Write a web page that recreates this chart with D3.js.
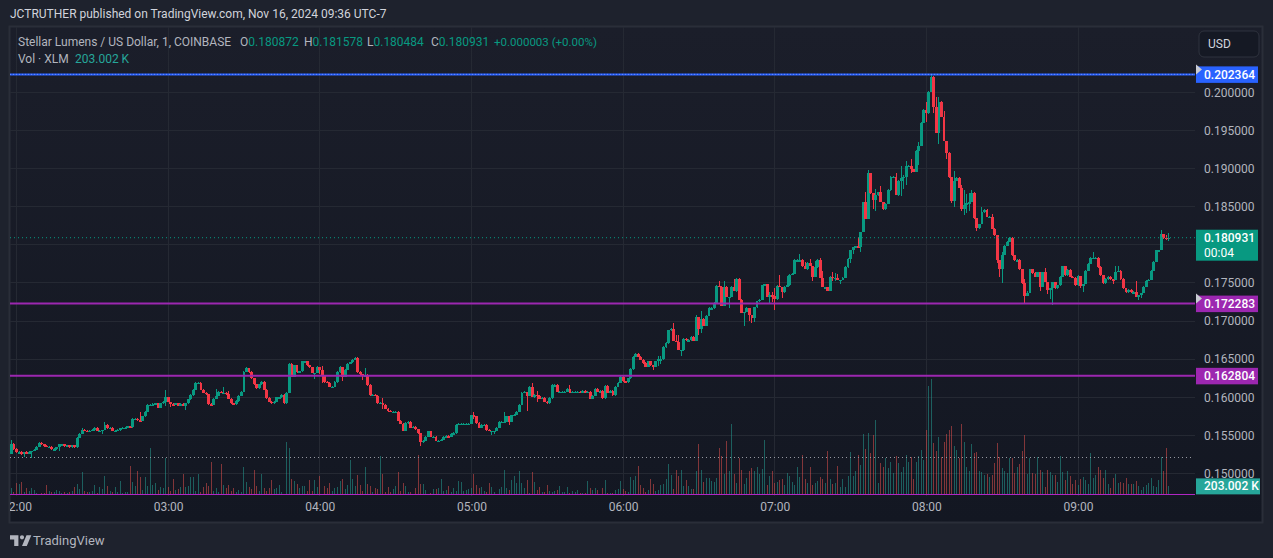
<!DOCTYPE html>
<html>
<head>
<meta charset="utf-8">
<script src="https://cdn.jsdelivr.net/npm/d3@7"></script>
<style>
	html, body { margin: 0; padding: 0; background: #1e222d; overflow: hidden; }
	svg { display: block; font-family: Roboto, "Liberation Sans", sans-serif; }
</style>
</head>
<body>
<svg width="1273" height="558"></svg>
<script>
var priceUnit = 0.0001;
var firstMinute = 118; // 01:58
var firstOpen = 1526;
var closes = [
	1539,1532,1528,1528,1525,1528,1526,1528,1530,1531,
	1535,1540,1538,1536,1535,1535,1532,1532,1534,1538,
	1538,1536,1537,1534,1537,1534,1547,1552,1557,1556,
	1555,1556,1557,1560,1556,1556,1557,1564,1559,1560,
	1556,1556,1557,1559,1560,1560,1562,1561,1572,1572,
	1570,1569,1575,1581,1590,1590,1591,1592,1586,1592,
	1594,1600,1594,1591,1590,1592,1589,1591,1589,1592,
	1597,1603,1610,1619,1619,1610,1606,1604,1591,1590,
	1598,1602,1607,1606,1606,1604,1598,1592,1591,1595,
	1602,1607,1633,1638,1633,1625,1617,1612,1617,1620,
	1610,1599,1594,1592,1594,1600,1600,1603,1592,1606,
	1644,1627,1642,1633,1634,1647,1647,1642,1639,1632,
	1632,1640,1636,1628,1620,1619,1614,1614,1620,1633,
	1640,1627,1636,1644,1646,1649,1652,1633,1630,1628,
	1629,1616,1603,1603,1602,1592,1593,1590,1585,1582,
	1581,1581,1581,1569,1565,1556,1566,1568,1560,1561,
	1558,1553,1541,1543,1548,1555,1548,1548,1543,1543,
	1544,1548,1549,1548,1552,1553,1564,1565,1565,1565,
	1565,1565,1576,1575,1566,1560,1564,1564,1557,1556,
	1556,1556,1560,1568,1568,1568,1575,1568,1576,1577,
	1581,1590,1606,1607,1602,1614,1600,1603,1602,1598,
	1599,1594,1592,1599,1616,1616,1607,1607,1607,1607,
	1611,1606,1607,1607,1607,1606,1608,1606,1607,1598,
	1602,1611,1607,1608,1599,1615,1606,1608,1603,1614,
	1619,1627,1621,1620,1625,1637,1653,1657,1653,1649,
	1645,1640,1647,1642,1640,1647,1650,1650,1666,1671,
	1688,1690,1674,1673,1662,1662,1677,1675,1675,1679,
	1674,1705,1690,1703,1694,1707,1717,1717,1724,1746,
	1745,1720,1745,1732,1732,1745,1739,1755,1728,1711,
	1712,1717,1708,1704,1718,1726,1728,1747,1748,1732,
	1734,1733,1729,1746,1745,1738,1745,1747,1761,1762,
	1780,1780,1780,1772,1768,1776,1772,1758,1771,1780,
	1757,1744,1744,1740,1758,1757,1757,1754,1754,1757,
	1771,1782,1793,1797,1798,1797,1817,1856,1834,1894,
	1868,1859,1865,1869,1856,1847,1854,1872,1889,1889,
	1865,1884,1888,1889,1904,1904,1899,1896,1923,1930,
	1960,1977,1973,2001,2020,1981,1947,1988,1968,1936,
	1921,1889,1857,1884,1888,1875,1847,1852,1855,1856,
	1868,1835,1822,1827,1843,1846,1837,1837,1821,1813,
	1780,1768,1787,1799,1804,1809,1786,1780,1780,1768,
	1750,1733,1737,1768,1763,1758,1764,1745,1764,1751,
	1741,1743,1751,1743,1747,1758,1772,1760,1767,1758,
	1757,1747,1759,1746,1749,1766,1775,1783,1783,1783,
	1771,1760,1750,1755,1758,1755,1754,1764,1766,1755,
	1743,1738,1741,1738,1738,1732,1734,1737,1745,1753,
	1754,1766,1778,1793,1793,1814,1809,1808.72,1809.31
];

// Only the wicks long enough to read; every other bar gets minWick
var minWick = 0.8;
var wickBars = [
	0,5,8,19,28,36,37,51,61,63,69,81,84,86,93,120,122,123,131,139,
	140,147,162,183,190,191,195,197,204,206,208,221,254,256,257,262,263,264,265,271,
	272,273,280,282,284,286,290,292,293,294,300,301,302,304,305,307,312,314,316,317,
	318,320,321,325,326,327,328,332,333,335,336,338,339,341,342,344,350,352,353,354,
	356,359,362,364,365,366,367,369,370,372,373,376,377,378,379,380,382,384,388,390,
	391,392,401,402,407,409,410,411,412,423,424,428,436,437,438,445,446,447,455,457,458
];
var wickUp = [
	5,0,0,0,3,0,3,10,9,0,0,9,7,4,2,0,0,5,0,0,
	9,6,0,5,0,0,12,0,0,5,5,5,0,4,4,8,8,8,0,3,
	0,10,7,8,0,10,0,0,0,0,4,4,10,15,0,12,8,6,5,0,
	8,3,8,6,6,5,0,0,0,12,0,13,4,0,8,8,5,15,3,6,
	9,5,10,3.64,2,13,6,8,0,0,13,3,20,12,12,4,0,6,3,0,
	0,4,5,3,0,5,0,0,0,0,0,8,0,8,6,15,0,0,5,4,6.47
];
var wickDown = [
	0,4,8,5,0,4,0,0,5,4,6,0,0,0,0,8,6,10,6,6,
	0,6,5,3,5,4,0,4,20,0,8,0,4,6,6,0,0,0,8,0,
	9,6,0,0,15,0,18,8,6,5,8,8,15,0,8,0,0,0,0,6,
	0,0,0,5,5,0,5,6,5,0,6,0,0,12,15,0,0,20,15,10,
	5,18,12,0,8,0,15,0,9,2,8,3,8,10,10,0,4,0,0,4,
	10,18,9,0,5,0,5,12,22,3,8,0,5,0,0,0,5,4,0,3,3.88
];

// Volume per bar in thousands
var volumes = [
	175,75,300,275,325,75,175,100,175,125,
	50,25,50,50,250,100,75,75,125,100,
	50,75,50,75,100,200,275,150,575,100,
	75,75,100,250,50,200,150,475,225,100,
	75,200,75,350,50,75,75,725,325,225,
	600,450,125,450,225,1175,250,300,125,200,
	175,925,200,100,400,125,150,200,525,200,
	225,450,450,100,525,75,200,300,225,825,
	100,175,75,775,250,175,250,100,175,75,
	125,75,700,325,200,150,625,225,100,525,
	175,100,175,375,150,175,250,75,25,1325,
	1175,400,350,275,175,225,225,100,375,100,
	375,200,475,25,225,175,300,100,175,200,
	350,400,150,250,875,400,225,500,250,100,
	700,275,225,75,175,150,975,525,75,200,
	75,150,225,575,100,300,225,75,75,25,
	175,1000,275,275,125,25,50,150,150,175,
	400,100,125,225,75,175,100,350,325,100,
	125,150,175,525,250,175,200,100,75,300,
	200,75,25,150,200,625,175,125,375,475,
	300,600,300,175,375,50,575,325,125,200,
	75,75,250,100,75,100,125,225,75,75,
	200,50,100,75,125,50,50,50,350,175,
	125,175,125,25,175,375,50,50,50,125,
	150,350,150,100,75,450,375,475,725,250,
	175,75,125,400,275,100,125,250,275,400,
	775,500,150,625,475,625,225,375,225,150,
	150,600,1275,625,325,425,425,350,325,425,
	1175,975,525,1350,600,1775,525,300,925,625,
	275,425,600,675,600,700,525,650,1375,250,
	475,600,300,325,375,400,250,550,475,325,
	250,700,450,1000,400,300,700,250,300,350,
	450,400,300,1100,400,275,300,725,200,400,
	200,475,1075,475,600,1000,750,1525,1150,1550,
	1050,1500,1875,300,800,700,925,675,825,550,
	975,800,575,700,1000,825,950,400,825,975,
	1125,875,1625,2725,2900,1300,1100,1450,950,1325,
	1525,1625,1725,1225,1125,925,1775,1325,700,600,
	1275,1050,1075,600,575,500,525,450,500,800,
	1300,950,675,600,550,925,925,550,700,775,
	1100,1500,525,925,550,525,950,625,575,200,
	625,575,500,500,325,975,575,375,600,475,
	275,375,250,400,450,375,275,1050,425,500,
	700,625,425,625,275,175,425,525,300,325,
	300,425,275,275,275,350,225,125,200,250,
	300,425,225,200,375,950,600,1175,203.002
];
var volumeAverage = 925;

var priceTicks = [0.15, 0.155, 0.16, 0.165, 0.17, 0.175, 0.18, 0.185, 0.19, 0.195, 0.2];
// the last-price tag covers this label in the reference
var hiddenPriceLabel = 0.18;
var hourTicks = [120, 180, 240, 300, 360, 420, 480, 540];
var hourLabels = ["02:00", "03:00", "04:00", "05:00", "06:00", "07:00", "08:00", "09:00"];

var levelPrices = [0.202364, 0.172283, 0.162804];
var levelColors = ["#2962ff", "#9c27b0", "#9c27b0"];
var lastPrice = 0.180931;

var legendName = "Stellar Lumens / US Dollar, 1, COINBASE";
var legendKeys = ["O", "H", "L", "C"];
var legendValues = ["0.180872", "0.181578", "0.180484", "0.180931"];
var legendChange = "+0.000003 (+0.00%)";

// Colors
var upColor = "#089981";
var downColor = "#f23645";
var gridColor = "#252933";
var textColor = "#b2b5be";
var brightText = "#d1d4dc";

// Sizing Stuff
var plotLeft = 10;
var plotRight = 1195;
var plotTop = 27;
var plotBottom = 496;
var axisX = 1204;

var svg = d3.select("svg");

var xscale = d3.scaleLinear().domain([120, 540]).range([16.5, 1078]);
var yscale = d3.scaleLinear().domain([0.15, 0.2]).range([473.4, 92.4]);
var vscale = d3.scaleLinear().domain([0, 2900]).range([494.5, 378.5]);

var bars = closes.map((close, i) => {
	var k = wickBars.indexOf(i);
	var open = i === 0 ? firstOpen : closes[i - 1];
	return {
		minute: firstMinute + i,
		open: open,
		close: close,
		high: Math.max(open, close) + (k >= 0 ? wickUp[k] : minWick),
		low: Math.min(open, close) - (k >= 0 ? wickDown[k] : minWick),
		volume: volumes[i],
		up: close >= open,
	};
});

drawFrame();
drawGrid();
drawVolume();
drawCandles();
drawLevels();
drawAxes();
drawTags();
drawLegend();
drawFooter();

function drawFrame() {
	var defs = svg.append("defs");
	var fade = defs
		.append("linearGradient")
		.attr("id", "paneFade")
		.attr("x1", 0)
		.attr("x2", 0)
		.attr("y1", 0)
		.attr("y2", 1);
	fade.append("stop").attr("offset", "0%").attr("stop-color", "#1b1e2a");
	fade.append("stop").attr("offset", "100%").attr("stop-color", "#131722");

	defs
		.append("clipPath")
		.attr("id", "plotClip")
		.append("rect")
		.attr("x", plotLeft)
		.attr("y", plotTop)
		.attr("width", plotRight - plotLeft)
		.attr("height", 496);

	svg
		.append("rect")
		.attr("x", 0)
		.attr("y", 0)
		.attr("width", 1273)
		.attr("height", 558)
		.attr("fill", "#1e222d");

	svg
		.append("rect")
		.attr("x", 9.5)
		.attr("y", 26.5)
		.attr("width", 1253)
		.attr("height", 496)
		.attr("fill", "url(#paneFade)")
		.attr("stroke", "#2a2e39")
		.attr("stroke-width", 2);

	svg
		.append("text")
		.attr("x", 10)
		.attr("y", 18)
		.attr("fill", brightText)
		.style("font-size", "12px")
		.text("JCTRUTHER published on TradingView.com, Nov 16, 2024 09:36 UTC-7");
}

function drawGrid() {
	var grid = svg.append("g").attr("stroke", gridColor).attr("shape-rendering", "crispEdges");

	grid
		.selectAll("line.h")
		.data(priceTicks)
		.enter()
		.append("line")
		.attr("class", "h")
		.attr("x1", plotLeft)
		.attr("x2", plotRight)
		.attr("y1", (d) => yscale(d))
		.attr("y2", (d) => yscale(d));

	grid
		.selectAll("line.v")
		.data(hourTicks)
		.enter()
		.append("line")
		.attr("class", "v")
		.attr("x1", (d) => xscale(d))
		.attr("x2", (d) => xscale(d))
		.attr("y1", plotTop)
		.attr("y2", plotBottom);
}

function drawVolume() {
	var volume = svg.append("g").attr("shape-rendering", "crispEdges");

	volume
		.selectAll("rect")
		.data(bars)
		.enter()
		.append("rect")
		.attr("x", (d) => Math.floor(xscale(d.minute)))
		.attr("y", (d) => vscale(d.volume))
		.attr("width", 1)
		.attr("height", (d) => vscale(0) - vscale(d.volume))
		.attr("fill", (d) => (d.up ? "#26a69a" : "#ef5350"))
		.attr("fill-opacity", 0.5);

	// volume average, dotted
	svg
		.append("line")
		.attr("x1", plotLeft)
		.attr("x2", plotRight - 2)
		.attr("y1", vscale(volumeAverage))
		.attr("y2", vscale(volumeAverage))
		.attr("stroke", "#9598a1")
		.attr("stroke-dasharray", "1 3");
}

function drawCandles() {
	var candles = svg
		.append("g")
		.attr("clip-path", "url(#plotClip)")
		.attr("shape-rendering", "crispEdges")
		.selectAll("g")
		.data(bars)
		.enter()
		.append("g")
		.attr("fill", (d) => (d.up ? upColor : downColor));

	candles
		.append("rect")
		.attr("x", (d) => Math.floor(xscale(d.minute)))
		.attr("width", 1)
		.attr("y", (d) => yscale(d.high * priceUnit))
		.attr("height", (d) => yscale(d.low * priceUnit) - yscale(d.high * priceUnit));

	candles
		.append("rect")
		.attr("x", (d) => Math.round(xscale(d.minute) - 1.45))
		.attr("width", (d) => Math.round(xscale(d.minute) + 1.45) - Math.round(xscale(d.minute) - 1.45))
		.attr("y", (d) => yscale(Math.max(d.open, d.close) * priceUnit))
		.attr("height", (d) =>
			Math.max(1.5, Math.abs(yscale(d.open * priceUnit) - yscale(d.close * priceUnit)))
		);
}

function drawLevels() {
	var levels = svg.append("g");

	levels
		.selectAll("line")
		.data(levelPrices)
		.enter()
		.append("line")
		.attr("x1", plotLeft)
		.attr("x2", plotRight)
		.attr("y1", (d) => yscale(d))
		.attr("y2", (d) => yscale(d))
		.attr("stroke", (d, i) => levelColors[i])
		.attr("stroke-width", 2);

	// price line dots on the top level
	svg
		.append("line")
		.attr("x1", plotLeft)
		.attr("x2", plotRight)
		.attr("y1", yscale(levelPrices[0]))
		.attr("y2", yscale(levelPrices[0]))
		.attr("stroke", "#6f8fff")
		.attr("stroke-dasharray", "1 2");

	// last price
	svg
		.append("line")
		.attr("x1", plotLeft)
		.attr("x2", plotRight)
		.attr("y1", yscale(lastPrice))
		.attr("y2", yscale(lastPrice))
		.attr("stroke", upColor)
		.attr("stroke-dasharray", "1 3");

	// volume zero line
	svg
		.append("line")
		.attr("x1", plotLeft)
		.attr("x2", plotRight)
		.attr("y1", vscale(0))
		.attr("y2", vscale(0))
		.attr("stroke", "#b026c4")
		.attr("stroke-width", 1);
}

function drawAxes() {
	var yaxis = d3
		.axisRight(yscale)
		.tickValues(priceTicks.filter((d) => d !== hiddenPriceLabel))
		.tickSize(0)
		.tickPadding(0)
		.tickFormat(d3.format(".6f"));

	var yaxisArea = svg.append("g").attr("transform", `translate(${axisX}, 0)`).call(yaxis);
	yaxisArea.select(".domain").remove();
	yaxisArea.selectAll("text").attr("fill", textColor).style("font-size", "12px").style("font-family", "Roboto");

	svg
		.append("clipPath")
		.attr("id", "timeClip")
		.append("rect")
		.attr("x", plotLeft)
		.attr("y", plotBottom)
		.attr("width", plotRight - plotLeft)
		.attr("height", 26);

	var xaxis = d3
		.axisBottom(xscale)
		.tickValues(hourTicks)
		.tickSize(0)
		.tickPadding(6)
		.tickFormat((d, i) => hourLabels[i]);

	var xaxisArea = svg
		.append("g")
		.attr("clip-path", "url(#timeClip)")
		.append("g")
		.attr("transform", `translate(0, ${plotBottom})`)
		.call(xaxis);
	xaxisArea.select(".domain").remove();
	xaxisArea.selectAll("text").attr("fill", textColor).style("font-size", "12px").style("font-family", "Roboto");

	// USD button
	svg
		.append("rect")
		.attr("x", 1199)
		.attr("y", 31)
		.attr("width", 60)
		.attr("height", 26)
		.attr("rx", 5)
		.attr("fill", "#151924")
		.attr("stroke", "#2f333e");
	svg
		.append("text")
		.attr("x", 1208)
		.attr("y", 48)
		.attr("fill", brightText)
		.style("font-size", "12px")
		.text("USD");
}

function drawTags() {
	var tagData = [
		{ price: levelPrices[0], color: levelColors[0], label: d3.format(".6f")(levelPrices[0]) },
		{ price: levelPrices[1], color: levelColors[1], label: d3.format(".6f")(levelPrices[1]) },
		{ price: levelPrices[2], color: levelColors[2], label: d3.format(".6f")(levelPrices[2]) },
	];

	tagData.forEach((tag, i) => {
		var center = yscale(tag.price);
		svg
			.append("rect")
			.attr("x", 1196)
			.attr("y", center - 8)
			.attr("width", 62)
			.attr("height", 16.5)
			.attr("fill", tag.color);
		svg
			.append("text")
			.attr("x", axisX)
			.attr("y", center + 4.5)
			.attr("fill", "#fff")
			.style("font-size", "12px")
			.style("font-weight", 500)
			.text(tag.label);
		if (i < 2) {
			svg
				.append("path")
				.attr("d", `M1196,${center - 10}L1202,${center - 5}L1196,${center}Z`)
				.attr("fill", "#c9ccd4");
		}
	});

	// last price with countdown
	var lastY = yscale(lastPrice);
	svg
		.append("rect")
		.attr("x", 1196)
		.attr("y", lastY - 8)
		.attr("width", 62)
		.attr("height", 31)
		.attr("fill", upColor);
	svg
		.append("text")
		.attr("x", axisX)
		.attr("y", lastY + 4.5)
		.attr("fill", "#fff")
		.style("font-size", "12px")
		.style("font-weight", 500)
		.text(d3.format(".6f")(lastPrice));
	svg
		.append("text")
		.attr("x", axisX)
		.attr("y", lastY + 19)
		.attr("fill", "#fff")
		.style("font-size", "12px")
		.text("00:04");

	// last volume
	var lastVolumeY = vscale(volumes[volumes.length - 1]);
	svg
		.append("rect")
		.attr("x", 1196)
		.attr("y", lastVolumeY - 8)
		.attr("width", 64)
		.attr("height", 16)
		.attr("fill", "#26a69a");
	svg
		.append("text")
		.attr("x", axisX)
		.attr("y", lastVolumeY + 4)
		.attr("fill", "#fff")
		.style("font-size", "12px")
		.style("font-weight", 500)
		.text("203.002 K");
}

function drawLegend() {
	var legend = svg.append("text").attr("y", 46).style("font-size", "12px");
	legend.append("tspan").attr("x", 18).attr("fill", textColor).text(legendName);

	legendKeys.forEach((key, i) => {
		legend
			.append("tspan")
			.attr("x", [240, 304, 367, 431][i])
			.attr("fill", textColor)
			.text(key);
		legend.append("tspan").attr("fill", upColor).text(legendValues[i]);
	});
	legend
		.append("tspan")
		.attr("x", 494)
		.attr("fill", upColor)
		.style("font-size", "11.5px")
		.text(legendChange);

	var vol = svg.append("text").attr("y", 63).style("font-size", "12px");
	vol.append("tspan").attr("x", 18).attr("fill", textColor).text("Vol · XLM");
	vol.append("tspan").attr("x", 75).attr("fill", "#26a69a").text("203.002 K");
}

function drawFooter() {
	svg
		.append("path")
		.attr("transform", "translate(10, 531) scale(0.6)")
		.attr("fill", textColor)
		.attr(
			"d",
			"M14 25H7V14H0V7h14v18zM28 25h-8l7.5-18h8L28 25zM20 14a3.5 3.5 0 1 0 0-7 3.5 3.5 0 0 0 0 7z"
		);
	svg
		.append("text")
		.attr("x", 33)
		.attr("y", 545)
		.attr("fill", textColor)
		.style("font-size", "13px")
		.text("TradingView");
}
</script>
</body>
</html>
